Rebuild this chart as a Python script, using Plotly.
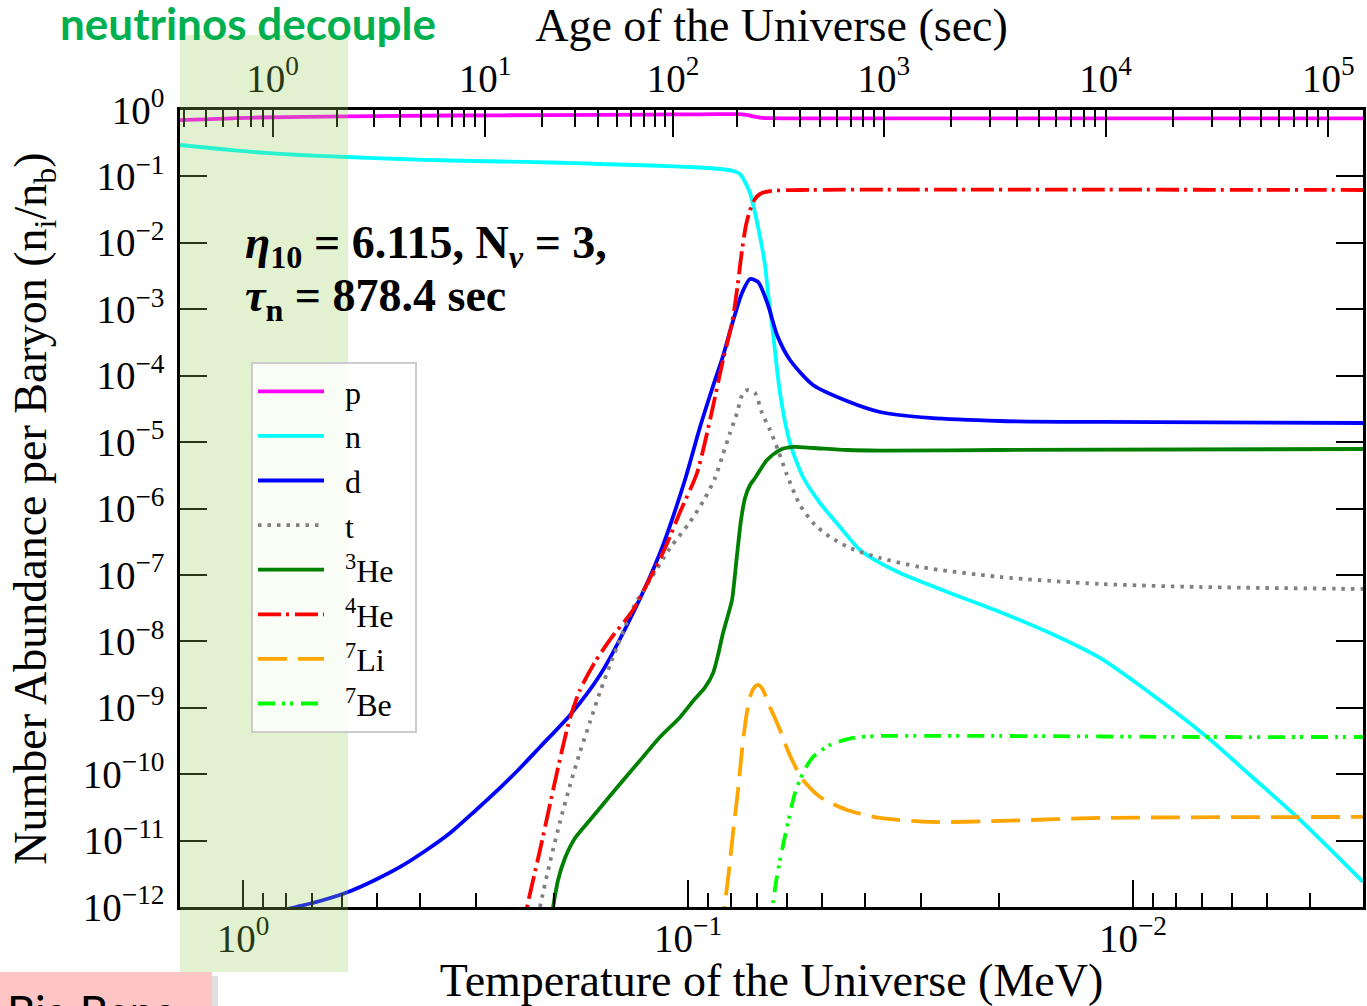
import numpy as np
import plotly.graph_objects as go

# ---------------- data ----------------
# temperatures in MeV, abundances = number per baryon
p_T = [1.386, 0.9158, 0.5808, 0.3425, 0.2042, 0.1217, 0.09397, 0.07842, 0.07562, 0.07330,
       0.07109, 0.06889, 0.06542, 0.05602, 0.003041]
p_Y = [0.703, 0.771, 0.804, 0.826, 0.838, 0.854, 0.862, 0.868, 0.862, 0.835,
       0.795, 0.768, 0.752, 0.750, 0.750]

n_T = [1.386, 1.1264, 0.9158, 0.7446, 0.5808, 0.4438, 0.3425, 0.2646, 0.2042, 0.1577,
       0.1217, 0.09397, 0.08474, 0.07923, 0.07640, 0.07445, 0.07255, 0.07069, 0.06889, 0.06714,
       0.06610, 0.06442, 0.06213, 0.05899, 0.05516, 0.05050, 0.04554, 0.04107, 0.03703, 0.03339,
       0.02578, 0.01990, 0.01537, 0.01186, 0.009158, 0.006818, 0.005459, 0.004279, 0.003041]
n_Y = [0.2972, 0.2587, 0.2291, 0.2101, 0.1961, 0.1829, 0.1737, 0.1677, 0.1621, 0.1538,
       0.1460, 0.1362, 0.1293, 0.1207, 0.1088, 0.08241, 0.05628, 0.02813, 0.01224, 0.004638,
       0.001757, 4.391e-4, 5.486e-5, 9.69e-6, 2.98e-6, 1.21e-6, 5.27e-7, 2.374e-7, 1.513e-7, 1.070e-7,
       5.35e-8, 2.77e-8, 1.336e-8, 5.62e-9, 1.669e-9, 3.63e-10, 9.72e-11, 2.268e-11, 2.38e-12]

d_T = [0.9645, 0.7601, 0.6714, 0.5808, 0.5051, 0.4438, 0.3899, 0.3425, 0.3011, 0.2646,
       0.2384, 0.2151, 0.1841, 0.1577, 0.1329, 0.1156, 0.1016, 0.09397, 0.08785, 0.08343,
       0.07923, 0.07562, 0.07255, 0.06960, 0.06610, 0.06310, 0.05899, 0.05237, 0.04392, 0.03703,
       0.02859, 0.01990, 0.01186, 0.003041]
d_Y = [6.84e-13, 1.0e-12, 1.233e-12, 1.684e-12, 2.553e-12, 4.01e-12, 6.98e-12, 1.302e-11, 2.792e-11, 6.20e-11,
       1.240e-10, 2.568e-10, 7.79e-10, 3.114e-9, 2.673e-8, 2.140e-7, 2.688e-6, 1.688e-5, 6.99e-5, 1.978e-4,
       6.65e-4, 1.757e-3, 2.855e-3, 2.573e-3, 1.159e-3, 4.10e-4, 1.722e-4, 7.24e-5, 4.157e-5, 2.838e-5,
       2.306e-5, 2.078e-5, 2.008e-5, 1.939e-5]

t_T = [0.2207, 0.2151, 0.2042, 0.1940, 0.1841, 0.1749, 0.1661, 0.1577, 0.1482, 0.1329,
       0.1217, 0.1097, 0.09897, 0.09157, 0.08695, 0.08343, 0.08047, 0.07761, 0.07523, 0.07330,
       0.07069, 0.06819, 0.06542, 0.06278, 0.05991, 0.05602, 0.05183, 0.04795, 0.04325, 0.03703,
       0.03011, 0.01990, 0.01186, 0.007069, 0.003041]
t_Y = [3.79e-13, 1.0e-12, 4.77e-12, 1.907e-11, 6.88e-11, 2.158e-10, 6.11e-10, 1.728e-9, 5.24e-9, 3.18e-8,
       8.39e-8, 2.544e-7, 6.27e-7, 1.440e-6, 2.88e-6, 6.62e-6, 1.371e-5, 2.742e-5, 5.486e-5, 6.09e-5,
       5.486e-5, 2.742e-5, 1.521e-5, 7.60e-6, 3.196e-6, 1.130e-6, 5.65e-7, 3.725e-7, 2.544e-7, 1.80e-7,
       1.317e-7, 9.31e-8, 7.31e-8, 6.58e-8, 6.14e-8]

he3_T = [0.2053, 0.2010, 0.1959, 0.1890, 0.1794, 0.1661, 0.1537, 0.1422, 0.1282, 0.1156,
         0.1042, 0.09669, 0.09157, 0.08785, 0.08562, 0.08343, 0.08129, 0.07964, 0.07761,
         0.07601, 0.07445, 0.07255, 0.07069, 0.06645, 0.06213, 0.05808, 0.05237, 0.04392, 0.03703,
         0.01990, 0.003041]
he3_Y = [3.79e-13, 1.0e-12, 2.553e-12, 5.47e-12, 1.095e-11, 2.044e-11, 3.815e-11, 7.12e-11, 1.608e-10, 3.62e-10,
         7.22e-10, 1.338e-9, 2.02e-9, 3.32e-9, 6.23e-9, 1.336e-8, 2.493e-8, 4.195e-8, 1.996e-7,
         6.72e-7, 1.440e-6, 2.26e-6, 2.88e-6, 5.37e-6, 7.60e-6, 8.44e-6, 8.15e-6, 7.60e-6, 7.45e-6,
         7.60e-6, 7.87e-6]

he4_T = [0.2360, 0.2300, 0.2151, 0.2010, 0.1919, 0.1841, 0.1749, 0.1618, 0.1482, 0.1329,
         0.1217, 0.1126, 0.1042, 0.09545, 0.08924, 0.08343, 0.07964, 0.07761, 0.07562, 0.07407,
         0.07255, 0.07069, 0.06889, 0.06542, 0.05602, 0.003041]
he4_Y = [3.79e-13, 1.0e-12, 7.22e-12, 5.78e-11, 2.313e-10, 7.02e-10, 1.852e-9, 4.89e-9, 1.163e-8, 2.966e-8,
         8.99e-8, 2.544e-7, 8.86e-7, 3.425e-6, 2.152e-5, 1.722e-4, 6.21e-4, 1.950e-3, 7.80e-3, 0.01856,
         0.03123, 0.04571, 0.05435, 0.06032, 0.06244, 0.06244]

li7_T = [0.08430, 0.08258, 0.08088, 0.07923, 0.07720, 0.07562, 0.07407, 0.07255, 0.07109, 0.06960,
         0.06784, 0.06610, 0.06408, 0.06213, 0.06022, 0.05838, 0.05516, 0.05050, 0.04392, 0.03703,
         0.02859, 0.01990, 0.01186, 0.003041]
li7_Y = [3.79e-13, 1.150e-12, 3.61e-12, 1.302e-11, 5.78e-11, 2.313e-10, 7.02e-10, 1.453e-9, 1.985e-9, 2.203e-9,
         1.852e-9, 1.180e-9, 7.52e-10, 4.63e-10, 2.658e-10, 1.636e-10, 8.18e-11, 4.54e-11, 2.891e-11, 2.191e-11,
         1.907e-11, 1.974e-11, 2.191e-11, 2.268e-11]

be7_T = [0.06509, 0.06442, 0.06342, 0.06213, 0.05991, 0.05749, 0.05516, 0.05237, 0.04795, 0.04258,
         0.03703, 0.02859, 0.01990, 0.007069, 0.003041]
be7_Y = [3.79e-13, 1.150e-12, 2.382e-12, 5.11e-12, 1.603e-11, 5.21e-11, 1.042e-10, 1.815e-10, 2.752e-10, 3.508e-10,
         3.759e-10, 3.759e-10, 3.759e-10, 3.63e-10, 3.63e-10]

species = ["p", "n", "d", "t", "<sup>3</sup>He", "<sup>4</sup>He", "<sup>7</sup>Li", "<sup>7</sup>Be"]

# axis ticks
T_range = [1.386, 0.003041]
bottom_tick_T = [1.0, 0.1, 0.01]
bottom_tick_text = ["10<sup>0</sup>", "10<sup>\u22121</sup>", "10<sup>\u22122</sup>"]
y_tick_vals = [10.0 ** (-k) for k in range(0, 13)]
y_tick_text = ["10<sup>0</sup>"] + ["10<sup>\u2212%d</sup>" % k for k in range(1, 13)]

# age <-> temperature correspondence
age_anchor = [0.1, 1, 10, 100, 1000, 1e4, 1e5, 1e6]
age_anchor_T = [2.71, 0.858, 0.286, 0.108, 0.0363, 0.01152, 0.00364, 0.00115]
top_major_ages = [1, 10, 100, 1000, 1e4, 1e5]
top_major_text = ["10<sup>%d</sup>" % k for k in range(0, 6)]

# ---------------- helpers ----------------
def age_to_T(a):
    return 10 ** np.interp(np.log10(a), np.log10(age_anchor), np.log10(age_anchor_T))

lo, hi = min(T_range), max(T_range)
bottom_minor = [k * 10.0 ** e for e in range(-3, 1) for k in range(2, 10) if lo < k * 10.0 ** e < hi]
top_major_T = [float(age_to_T(a)) for a in top_major_ages]
top_minor_T = []
for e in range(-1, 6):
    for k in range(2, 10):
        tv = float(age_to_T(k * 10.0 ** e))
        if lo < tv < hi:
            top_minor_T.append(tv)

styles = [
    ("#FF00FF", "solid"),
    ("#00FFFF", "solid"),
    ("#0000FF", "solid"),
    ("#808080", "3.5px,6px"),
    ("#008000", "solid"),
    ("#FF0000", "23px,5px,3px,6px"),
    ("#FFA500", "29px,11px"),
    ("#00FF00", "17px,7px,3px,5px,3px,8px"),
]
data = [(p_T, p_Y), (n_T, n_Y), (d_T, d_Y), (t_T, t_Y), (he3_T, he3_Y),
        (he4_T, he4_Y), (li7_T, li7_Y), (be7_T, be7_Y)]

PAD = "\u2002"  # en-space padding around legend labels (legend box spacing)
fig = go.Figure()
for name, (xs, ys), (col, dash) in zip(species, data, styles):
    fig.add_trace(go.Scatter(
        x=xs, y=ys, name=PAD + name + PAD, mode="lines",
        line=dict(color=col, width=3.8, dash=dash, shape="spline", smoothing=0.7),
        hoverinfo="skip"))

SERIF = "Liberation Serif"
W, H = 1367, 1006
L, R, T, B = 180, 4, 110, 99
pw, ph = W - L - R, H - T - B

def px(xp):
    return (xp - L) / pw

def py(yp):
    return (H - B - yp) / ph

axis_common = dict(showgrid=False, zeroline=False, showline=True, linecolor="black",
                   linewidth=2.5, ticks="inside", tickcolor="black", tickwidth=2,
                   automargin=False)

fig.update_layout(
    width=W, height=H,
    margin=dict(l=L, r=R, t=T, b=B, autoexpand=False),
    paper_bgcolor="white", plot_bgcolor="white",
    font=dict(family=SERIF, size=39, color="black"),
    xaxis=dict(type="log", range=[np.log10(T_range[0]), np.log10(T_range[1])],
               tickmode="array", tickvals=bottom_tick_T, ticktext=bottom_tick_text,
               ticklen=27, mirror=False, ticklabelstandoff=-5,
               minor=dict(tickmode="array", tickvals=bottom_minor, ticks="inside",
                          ticklen=14, tickwidth=2, tickcolor="black", showgrid=False),
               title=dict(text="Temperature of the Universe (MeV)", font=dict(size=46), standoff=30),
               **axis_common),
    xaxis2=dict(type="log", overlaying="x", side="top", anchor="y",
                range=[np.log10(T_range[0]), np.log10(T_range[1])],
                tickmode="array", tickvals=top_major_T, ticktext=top_major_text,
                ticklen=27, ticklabelstandoff=0,
                minor=dict(tickmode="array", tickvals=top_minor_T, ticks="inside",
                           ticklen=17, tickwidth=2, tickcolor="black", showgrid=False),
                title=dict(text="Age of the Universe (sec)", font=dict(size=46), standoff=12),
                **axis_common),
    yaxis=dict(type="log", range=[-12, 0], tickmode="array", tickvals=y_tick_vals,
               ticktext=y_tick_text, ticklen=27, mirror="ticks", ticklabelstandoff=5,
               title=dict(text="Number Abundance per Baryon (n<sub>i</sub>/n<sub>b</sub>)",
                          font=dict(size=46), standoff=22),
               **axis_common),
    legend=dict(x=px(251), y=py(362), xanchor="left", yanchor="top",
                bgcolor="rgba(255,255,255,0.8)", bordercolor="#cccccc", borderwidth=2,
                font=dict(family=SERIF, size=32), itemwidth=66, tracegroupgap=0),
    showlegend=True,
)

# invisible companion trace that binds the top (age) axis to the data space
fig.add_trace(go.Scatter(x=p_T, y=p_Y, xaxis="x2", yaxis="y", mode="lines",
                         line=dict(width=0), opacity=0, showlegend=False, hoverinfo="skip"))

fig.add_annotation(xref="paper", yref="paper", x=px(243), y=py(246), xanchor="left", yanchor="middle",
                   text="<b><i>\u03b7</i><sub>10</sub> = 6.115, N<sub><i>\u03bd</i></sub> = 3,</b>",
                   showarrow=False, font=dict(family=SERIF, size=46, color="black"))
fig.add_annotation(xref="paper", yref="paper", x=px(243), y=py(299), xanchor="left", yanchor="middle",
                   text="<b><i>\u03c4</i><sub>n</sub> = 878.4 sec</b>",
                   showarrow=False, font=dict(family=SERIF, size=46, color="black"))

# slide overlays
fig.add_shape(type="rect", xref="paper", yref="paper", x0=px(180), x1=px(348), y0=py(972), y1=py(35),
              fillcolor="rgba(146,208,80,0.27)", line=dict(width=0), layer="above")
fig.add_annotation(xref="paper", yref="paper", x=px(58), y=py(23), xanchor="left", yanchor="middle",
                   text="<b>neutrinos decouple</b>", showarrow=False,
                   font=dict(family="Lato", size=44, color="#00B050"))
fig.add_shape(type="rect", xref="paper", yref="paper", x0=px(212), x1=px(218), y0=py(1060), y1=py(976),
              fillcolor="rgba(0,0,0,0.12)", line=dict(width=0), layer="above")
fig.add_shape(type="rect", xref="paper", yref="paper", x0=px(0), x1=px(212), y0=py(1060), y1=py(972),
              fillcolor="#FFC4C4", line=dict(width=0), layer="above")
fig.add_annotation(xref="paper", yref="paper", x=px(6), y=py(984), xanchor="left", yanchor="top",
                   text="Big Bang", showarrow=False, borderpad=0,
                   font=dict(family="Lato", size=44, color="black"))

fig.write_html("out.html", config={"displayModeBar": False},
               post_script="document.body.style.margin='0px';")
